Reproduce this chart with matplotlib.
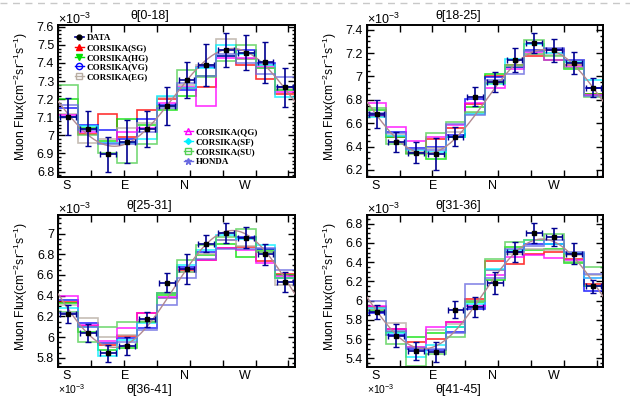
import numpy as np
import matplotlib
matplotlib.use("Agg")
import matplotlib.pyplot as plt
from matplotlib.lines import Line2D
from matplotlib.ticker import MultipleLocator, AutoMinorLocator, FormatStrFormatter

plt.rcParams['font.family'] = ['Liberation Sans', 'DejaVu Sans']
plt.rcParams['mathtext.default'] = 'regular'

# azimuth bins (deg), 12 bins of 30 deg
az_edges = np.linspace(0, 360, 13)
az_centers = 0.5 * (az_edges[:-1] + az_edges[1:])

theta_titles = ['θ[0-18]', 'θ[18-25]', 'θ[25-31]', 'θ[31-36]']
hidden_titles = ['θ[36-41]', 'θ[41-45]']

# muon flux in units of 1e-3 cm^-2 sr^-1 s^-1
data_flux = [
    [7.104, 7.036, 6.896, 6.966, 7.036, 7.162, 7.306, 7.389, 7.471, 7.458, 7.403, 7.265],
    [6.678, 6.440, 6.348, 6.336, 6.484, 6.826, 6.955, 7.140, 7.286, 7.224, 7.116, 6.905],
    [6.221, 6.041, 5.842, 5.912, 6.170, 6.524, 6.662, 6.903, 7.006, 6.960, 6.800, 6.533],
    [5.880, 5.636, 5.480, 5.463, 5.904, 5.932, 6.182, 6.505, 6.703, 6.661, 6.487, 6.147],
]
data_err = [
    [0.104, 0.097, 0.096, 0.120, 0.100, 0.105, 0.100, 0.118, 0.094, 0.097, 0.115, 0.110],
    [0.120, 0.085, 0.090, 0.140, 0.080, 0.083, 0.085, 0.100, 0.088, 0.100, 0.093, 0.078],
    [0.088, 0.088, 0.080, 0.088, 0.072, 0.093, 0.145, 0.085, 0.093, 0.100, 0.100, 0.097],
    [0.070, 0.120, 0.095, 0.105, 0.087, 0.104, 0.113, 0.100, 0.100, 0.097, 0.108, 0.070],
]

sg = [
    [7.10, 7.01, 7.12, 6.99, 7.14, 7.20, 7.26, 7.27, 7.44, 7.39, 7.31, 7.23],
    [6.661, 6.484, 6.348, 6.462, 6.556, 6.763, 7.002, 7.096, 7.173, 7.224, 7.101, 6.854],
    [6.340, 6.106, 5.922, 6.009, 6.234, 6.427, 6.646, 6.743, 6.865, 6.871, 6.736, 6.607],
    [5.932, 5.706, 5.567, 5.602, 5.775, 6.018, 6.411, 6.383, 6.487, 6.505, 6.435, 6.175],
]
hg = [
    [7.20, 7.04, 6.97, 7.09, 7.06, 7.14, 7.22, 7.33, 7.44, 7.42, 7.37, 7.25],
    [6.712, 6.479, 6.342, 6.291, 6.479, 6.740, 7.025, 7.082, 7.190, 7.138, 7.067, 6.848],
    [6.331, 6.051, 5.874, 5.890, 6.147, 6.405, 6.630, 6.791, 6.897, 6.775, 6.839, 6.598],
    [5.904, 5.671, 5.619, 5.661, 5.723, 5.984, 6.210, 6.557, 6.522, 6.540, 6.390, 6.157],
]
vg = [
    [7.15, 7.06, 7.03, 6.98, 7.09, 7.17, 7.25, 7.38, 7.44, 7.47, 7.40, 7.27],
    [6.669, 6.527, 6.385, 6.400, 6.499, 6.803, 6.996, 7.082, 7.224, 7.238, 7.144, 6.905],
    [6.357, 6.131, 5.938, 5.986, 6.083, 6.373, 6.678, 6.823, 6.936, 6.968, 6.855, 6.566],
    [5.873, 5.647, 5.501, 5.487, 5.671, 5.914, 6.314, 6.505, 6.585, 6.592, 6.487, 6.105],
]
eg = [
    [7.12, 6.96, 6.98, 7.04, 7.07, 7.21, 7.28, 7.39, 7.53, 7.42, 7.39, 7.26],
    [6.678, 6.499, 6.357, 6.385, 6.527, 6.689, 6.959, 7.087, 7.195, 7.181, 7.096, 6.840],
    [6.308, 6.180, 6.003, 6.019, 6.163, 6.373, 6.630, 6.807, 6.942, 6.878, 6.823, 6.501],
    [5.914, 5.765, 5.515, 5.695, 5.758, 6.001, 6.314, 6.487, 6.540, 6.529, 6.470, 6.262],
]
qg = [
    [7.11, 7.02, 6.96, 7.02, 7.04, 7.18, 7.27, 7.16, 7.43, 7.43, 7.38, 7.24],
    [6.774, 6.570, 6.447, 6.479, 6.584, 6.774, 6.905, 7.067, 7.209, 7.144, 7.082, 6.840],
    [6.395, 6.115, 5.961, 6.083, 6.228, 6.389, 6.653, 6.743, 6.865, 6.846, 6.717, 6.588],
    [5.949, 5.706, 5.522, 5.730, 5.775, 5.949, 6.262, 6.453, 6.470, 6.446, 6.418, 6.237],
]
sf = [
    [7.10, 7.05, 6.96, 6.96, 6.98, 7.22, 7.26, 7.37, 7.50, 7.45, 7.39, 7.21],
    [6.655, 6.490, 6.371, 6.356, 6.484, 6.678, 6.939, 7.153, 7.275, 7.201, 7.124, 6.968],
    [6.276, 6.093, 5.816, 5.970, 6.131, 6.421, 6.694, 6.839, 6.984, 6.952, 6.887, 6.575],
    [5.925, 5.661, 5.418, 5.543, 5.730, 5.966, 6.331, 6.522, 6.626, 6.592, 6.494, 6.237],
]
su = [
    [7.28, 7.00, 6.90, 6.85, 6.95, 7.16, 7.36, 7.32, 7.41, 7.50, 7.37, 7.25],
    [6.726, 6.422, 6.337, 6.513, 6.612, 6.698, 6.945, 7.096, 7.309, 7.173, 7.076, 6.820],
    [6.244, 5.954, 6.099, 6.147, 6.147, 6.421, 6.743, 6.887, 6.968, 7.048, 6.823, 6.566],
    [5.897, 5.550, 5.324, 5.445, 5.619, 6.001, 6.435, 6.609, 6.626, 6.696, 6.401, 6.348],
]
honda = [
    [7.17, 7.03, 6.95, 6.95, 7.02, 7.15, 7.29, 7.33, 7.45, 7.40, 7.34, 7.32],
    [6.689, 6.513, 6.376, 6.371, 6.592, 6.669, 6.968, 7.025, 7.218, 7.246, 7.138, 6.831],
    [6.228, 6.099, 5.945, 5.954, 6.067, 6.308, 6.575, 6.759, 6.855, 6.855, 6.865, 6.646],
    [5.994, 5.689, 5.508, 5.497, 5.661, 6.175, 6.237, 6.540, 6.564, 6.626, 6.505, 6.279],
]

# sine fit: offset, amplitude, azimuth of maximum (deg)
fit_offset = [7.21, 6.785, 6.465, 6.07]
fit_amp = [0.27, 0.445, 0.565, 0.57]
fit_phase = [265, 270, 265, 267]

ylims = [(6.77, 7.61), (6.14, 7.44), (5.71, 7.18), (5.31, 6.89)]
ymajor = [0.1, 0.2, 0.2, 0.2]
yminor = [5, 4, 4, 4]

dir_labels = ['S', 'E', 'N', 'W']
dir_pos = [13, 101, 192, 284]

mc_series = [
    ('CORSIKA(SG)', sg, '#ff0000', dict(marker='^', mfc='#ff0000')),
    ('CORSIKA(HG)', hg, '#00e000', dict(marker='v', mfc='#00e000')),
    ('CORSIKA(VG)', vg, '#0000ff', dict(marker='o', mfc='none')),
    ('CORSIKA(EG)', eg, '#b8ada3', dict(marker='s', mfc='none')),
    ('CORSIKA(QG)', qg, '#ff00ff', dict(marker='^', mfc='none')),
    ('CORSIKA(SF)', sf, '#00f0ff', dict(marker='D', mfc='#00f0ff', ms=3)),
    ('CORSIKA(SU)', su, '#55d055', dict(marker='s', mfc='none')),
    ('HONDA', honda, '#6a6ae0', dict(marker='*', mfc='#6a6ae0')),
]

W, H = 630, 396
fig = plt.figure(figsize=(6.3, 3.96), dpi=100)

# panel boxes in pixels: left, top, right, bottom
boxes = [(58.3, 25, 295, 177), (366.7, 25, 603.3, 177),
         (58.3, 215, 295, 367), (366.7, 215, 603.3, 367)]

axes = []
for i, (l, t, r, b) in enumerate(boxes):
    ax = fig.add_axes([l / W, 1 - b / H, (r - l) / W, (b - t) / H])
    axes.append(ax)

    for name, vals, col, mk in mc_series:
        ax.stairs(vals[i], az_edges, color=col, lw=1.2, alpha=0.8, zorder=2)

    xx = np.linspace(0, 360, 200)
    ax.plot(xx, fit_offset[i] + fit_amp[i] * np.cos(np.radians(xx - fit_phase[i])),
            color='#b08890', lw=1.0, zorder=3)

    ax.errorbar(az_centers, data_flux[i], yerr=data_err[i], xerr=12, fmt='s',
                color='#000090', mfc='black', mec='black', ms=3.5,
                elinewidth=1.2, capsize=2, capthick=1.0, zorder=5)

    ax.set_xlim(0, 360)
    ax.set_ylim(*ylims[i])
    ax.xaxis.set_major_locator(MultipleLocator(50))
    ax.set_xticklabels([])
    ax.yaxis.set_major_locator(MultipleLocator(ymajor[i]))
    ax.yaxis.set_minor_locator(AutoMinorLocator(yminor[i]))
    ax.yaxis.set_major_formatter(FormatStrFormatter('%g'))
    ax.tick_params(which='both', direction='in', top=True, right=True, width=1.0)
    ax.tick_params(which='major', length=5, labelsize=9, pad=3)
    ax.tick_params(which='minor', length=2.5)
    for s in ax.spines.values():
        s.set_linewidth(1.4)

    for lab, p in zip(dir_labels, dir_pos):
        ax.text(p, -0.02, lab, transform=ax.get_xaxis_transform(),
                ha='center', va='top', fontsize=9)

    ax.set_ylabel('Muon Flux(cm$^{-2}$sr$^{-1}$s$^{-1}$)', fontsize=8.7)
    ax.yaxis.set_label_coords(-0.118, 0.53)
    ax.text(0.385, 1.06, theta_titles[i], transform=ax.transAxes,
            ha='center', va='center', fontsize=9)
    ax.text(0.0, 1.006, r'$\times$10$^{-3}$', transform=ax.transAxes,
            ha='left', va='baseline', fontsize=9)

# legends in first panel
def handle(name, col, mk):
    kw = dict(ms=4.5, mew=1.0)
    kw.update(mk)
    return Line2D([], [], color=col, mec=col, lw=1.0, **kw)

data_h = Line2D([], [], color='#000090', marker='o', mfc='black', mec='black', ms=3.5, lw=1.2)
h1 = [data_h] + [handle(n, c, m) for n, _, c, m in mc_series[:4]]
l1 = ['DATA'] + [n for n, _, _, _ in mc_series[:4]]
h2 = [handle(n, c, m) for n, _, c, m in mc_series[4:]]
l2 = [n for n, _, _, _ in mc_series[4:]]

leg_font = dict(family='Liberation Serif', weight='bold', size=6.5)
leg1 = axes[0].legend(h1, l1, loc='upper left', bbox_to_anchor=(0.07, 0.94),
                      frameon=False, prop=leg_font, borderpad=0, handlelength=1.0,
                      handletextpad=0.3, labelspacing=0.15, borderaxespad=0)
axes[0].add_artist(leg1)
axes[0].legend(h2, l2, loc='upper left', bbox_to_anchor=(0.53, 0.325),
               frameon=False, prop=leg_font, borderpad=0, handlelength=1.0,
               handletextpad=0.3, labelspacing=0.2, borderaxespad=0)

# titles of the next row, at the page edge
for x0, t in zip([58.3, 366.7], hidden_titles):
    fig.text((x0 + 0.385 * 236.7) / W, 1 - 389.5 / H, t, ha='center', va='center', fontsize=9)
    fig.text(x0 / W, 1 - 394 / H, r'$\times$10$^{-3}$', ha='left', va='baseline', fontsize=7.5)

# dashed page border at top
fig.add_artist(Line2D([0, 1], [1 - 2.5 / H, 1 - 2.5 / H], transform=fig.transFigure,
                      color='#c8c8c8', lw=1.0, ls=(0, (5, 4))))

fig.savefig('out.png', dpi=100)
